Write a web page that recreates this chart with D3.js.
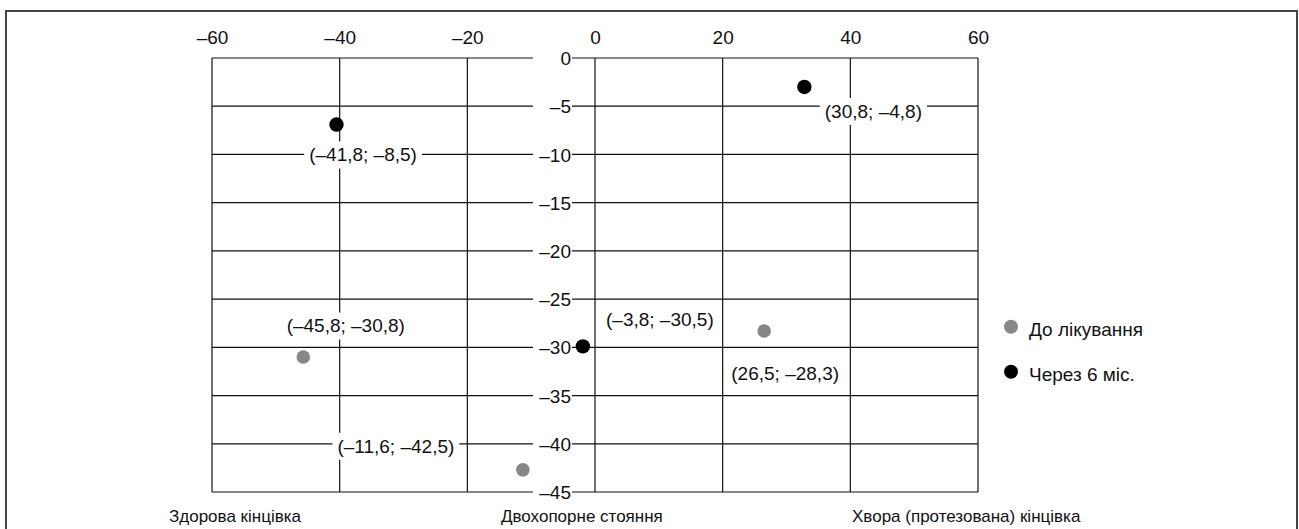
<!DOCTYPE html>
<html>
<head>
<meta charset="utf-8">
<script src="https://cdn.jsdelivr.net/npm/d3@7"></script>
<style>
  html, body { margin: 0; padding: 0; background: #fff; }
  svg text { font-family: "Liberation Sans", Arial, Helvetica, sans-serif; fill: #111; }
</style>
</head>
<body>
<svg id="chart" width="1299" height="529"></svg>
<script>
// ---- data ----
const seriesNames = ["До лікування", "Через 6 міс."];
const beforeX = [-45.7, -11.3, 26.5];
const beforeY = [-31.0, -42.7, -28.3];
const beforeLabels = ["(–45,8; –30,8)", "(–11,6; –42,5)", "(26,5; –28,3)"];
const afterX = [-40.5, 32.8, -1.9];
const afterY = [-6.9, -3.0, -29.9];
const afterLabels = ["(–41,8; –8,5)", "(30,8; –4,8)", "(–3,8; –30,5)"];
const xTicks = [-60, -40, -20, 0, 20, 40, 60];
const yTicks = [0, -5, -10, -15, -20, -25, -30, -35, -40, -45];
const bottomLabels = ["Здорова кінцівка", "Двохопорне стояння", "Хвора (протезована) кінцівка"];

// ---- layout ----
const bottomLabelX = [169, 501, 852];
const beforeLabelOffset = [[42.5, -31.5], [-127, -24], [21, 42]];
const afterLabelOffset = [[26.6, 30], [69, 24], [77, -27]];
const colors = ["#878787", "#000000"];
const FS = 19;

const svg = d3.select("#chart");
const x = d3.scaleLinear().domain([-60, 60]).range([212, 978]);
const y = d3.scaleLinear().domain([0, -45]).range([58, 492]);

// outer frame
svg.append("rect").attr("x", 6).attr("y", 11).attr("width", 1291).attr("height", 540)
  .attr("fill", "none").attr("stroke", "#444").attr("stroke-width", 2);

// grid
const g = svg.append("g");
g.selectAll("line.v").data(xTicks).join("line")
  .attr("x1", d => x(d)).attr("x2", d => x(d))
  .attr("y1", y(0)).attr("y2", y(-45))
  .attr("stroke", "#111").attr("stroke-width", 1.2);
g.selectAll("line.h").data(yTicks).join("line")
  .attr("x1", x(-60)).attr("x2", x(60))
  .attr("y1", d => y(d)).attr("y2", d => y(d))
  .attr("stroke", "#111").attr("stroke-width", 1.2);

// top x axis labels
const xAxis = d3.axisTop(x).tickValues(xTicks).tickSize(0)
  .tickFormat(d => (d < 0 ? "–" + Math.abs(d) : String(d)));
const xa = svg.append("g").attr("transform", "translate(0,44)").call(xAxis);
xa.select(".domain").remove();
xa.selectAll("text").attr("font-size", FS).attr("dy", 0).attr("y", 0)
  .style("font-family", "'Liberation Sans', Arial, sans-serif").attr("fill", "#111");

// y axis label strip (white background)
svg.append("rect").attr("x", 533).attr("y", 46).attr("width", 39).attr("height", 460).attr("fill", "#fff");
const yAxis = d3.axisLeft(y).tickValues(yTicks).tickSize(0)
  .tickFormat(d => (d < 0 ? "–" + Math.abs(d) : String(d)));
const ya = svg.append("g").attr("transform", "translate(571,0)").call(yAxis);
ya.select(".domain").remove();
ya.selectAll("text").attr("font-size", FS).attr("x", 0).attr("dy", "0.35em")
  .style("font-family", "'Liberation Sans', Arial, sans-serif").attr("fill", "#111");

// point labels with white boxes
function drawLabels(xs, ys, labels, offs) {
  labels.forEach((t, i) => {
    const cx = x(xs[i]) + offs[i][0];
    const cy = y(ys[i]) + offs[i][1];
    const grp = svg.append("g");
    const rect = grp.append("rect").attr("fill", "#fff");
    const txt = grp.append("text").attr("x", cx).attr("y", cy + FS * 0.36)
      .attr("text-anchor", "middle").attr("font-size", FS).text(t);
    const bb = txt.node().getBBox();
    rect.attr("x", bb.x - 5).attr("y", cy - 13).attr("width", bb.width + 10).attr("height", 27);
  });
}
drawLabels(beforeX, beforeY, beforeLabels, beforeLabelOffset);
drawLabels(afterX, afterY, afterLabels, afterLabelOffset);

// points
svg.selectAll("circle.before").data(beforeX).join("circle")
  .attr("cx", d => x(d)).attr("cy", (d, i) => y(beforeY[i])).attr("r", 6.8).attr("fill", colors[0]);
svg.selectAll("circle.after").data(afterX).join("circle")
  .attr("cx", d => x(d)).attr("cy", (d, i) => y(afterY[i])).attr("r", 7.2).attr("fill", colors[1]);

// bottom labels
svg.selectAll("text.bottom").data(bottomLabels).join("text")
  .attr("x", (d, i) => bottomLabelX[i]).attr("y", 522).attr("font-size", 17).text(d => d);

// legend
seriesNames.forEach((s, i) => {
  const cy = 326.7 + i * 45;
  svg.append("circle").attr("cx", 1011).attr("cy", cy).attr("r", 7).attr("fill", colors[i]);
  svg.append("text").attr("x", 1029).attr("y", cy + 9).attr("font-size", 19).text(s);
});
</script>
</body>
</html>
